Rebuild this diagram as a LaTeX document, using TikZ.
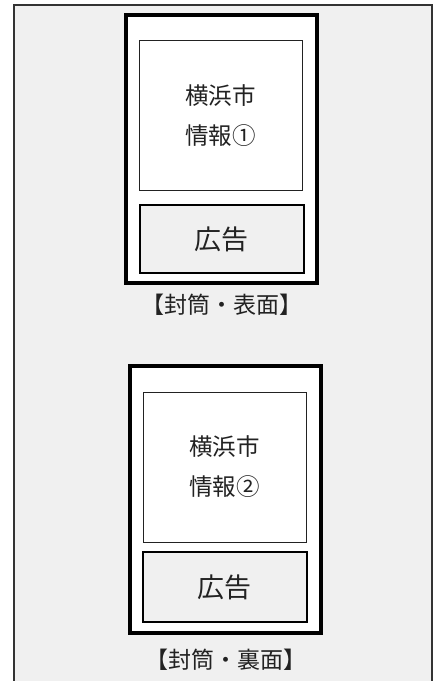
\documentclass[tikz,border=0pt]{standalone}
\usepackage{fontspec}
\setmainfont{Noto Sans CJK JP}
\usepackage{xcolor}
\definecolor{panelgray}{HTML}{F0F0F0}
\definecolor{inkgray}{HTML}{222222}
\tikzset{envelope/.style={draw=black, fill=white, line width=3.5pt, minimum width=191pt, minimum height=#1, inner sep=0pt}, envelope/.default={268pt}}
\tikzset{infobox/.style={draw=inkgray, fill=white, line width=1pt, minimum width=163pt, minimum height=150pt, inner sep=0pt, align=center, font=\fontsize{23.5}{40}\selectfont, text=inkgray}}
\tikzset{adbox/.style={draw=black, fill=panelgray, line width=2pt, minimum width=164pt, minimum height=#1, inner sep=0pt, font=\fontsize{27}{30}\selectfont, text=inkgray}, adbox/.default={68pt}}
\tikzset{caption/.style={inner sep=0pt, font=\fontsize{23}{26}\selectfont, text=inkgray}}

\begin{document}
\begin{tikzpicture}[x=1pt, y=-1pt]
\useasboundingbox (0, 0) rectangle (437, 681);
  \fill[white] (0, 0) rectangle (437, 681);
  \draw[fill=panelgray, draw=black!80, line width=1.5pt] (14, 690) -- (14, 5) -- (432, 5) -- (432, 690);
  % front side
  \node[envelope] (env1) at (221.5, 149) {};
  \node[infobox] (info1) at (220.5, 115.5) {横浜市\\情報①};
  \node[adbox] (ad1) at (221.5, 239) {広告};
  \node[caption] (cap1) at (222, 305) {【封筒・表面】};
  % back side
  \node[envelope=267pt] (env2) at (225.5, 499.5) {};
  \node[infobox] (info2) at (224.5, 467) {横浜市\\情報②};
  \node[adbox=70pt] (ad2) at (224.5, 587) {広告};
  \node[caption] (cap2) at (226, 660) {【封筒・裏面】};
\end{tikzpicture}
\end{document}
